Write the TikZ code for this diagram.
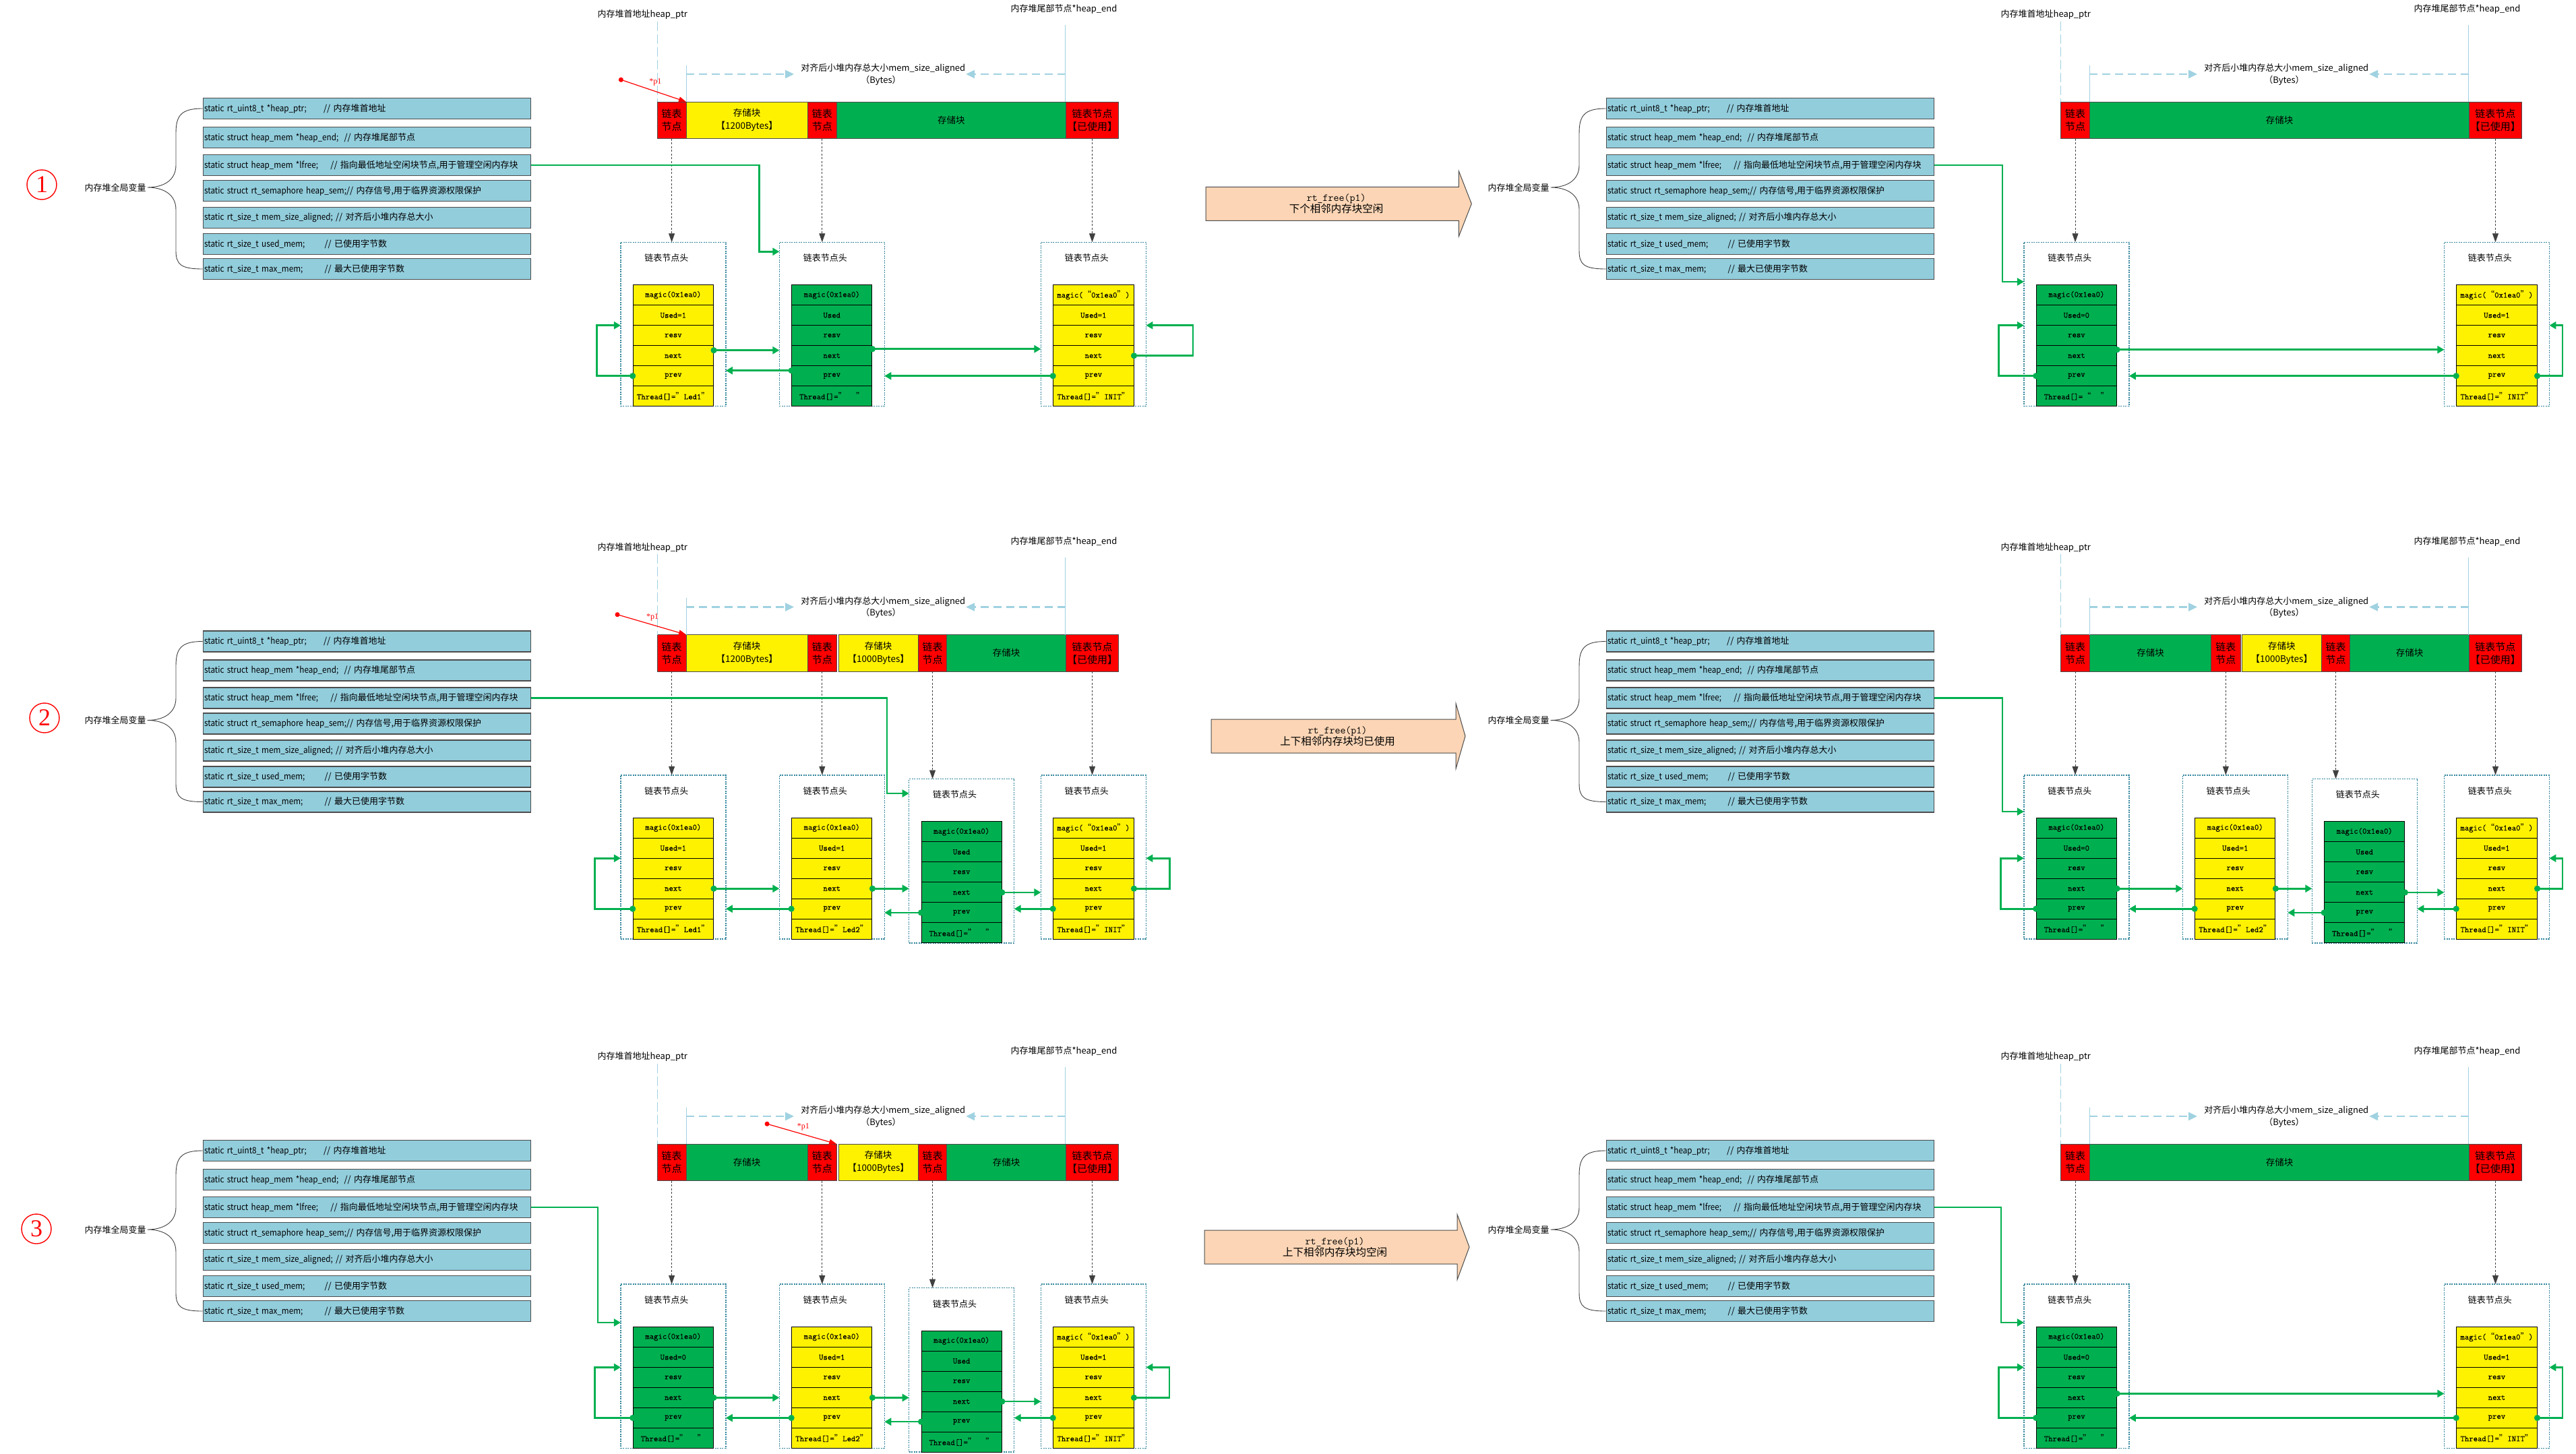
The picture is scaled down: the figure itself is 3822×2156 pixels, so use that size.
\documentclass[tikz,border=0pt]{standalone}
\usepackage{fontspec}
\setmainfont{Noto Sans CJK SC}
\newfontfamily\codefont[FakeStretch=0.9]{Noto Sans CJK SC}
\newfontfamily\numfont{Liberation Serif}
\newfontfamily\cellfont[FakeBold=0.5]{Latin Modern Mono}
\usetikzlibrary{arrows.meta}

\definecolor{lgreen}{RGB}{0,176,80}
\definecolor{varblue}{RGB}{146,205,220}
\definecolor{lblue}{RGB}{160,210,225}
\definecolor{boxteal}{RGB}{49,133,156}
\definecolor{peach}{RGB}{251,213,181}

\tikzset{
  varlab/.style={font=\fontsize{13}{15}\selectfont, inner sep=2pt},
  varbox/.style={draw=black!70, fill=varblue, line width=1.3pt, anchor=west, text width=482pt, align=left,
    inner xsep=2pt, inner ysep=0pt, minimum height=31pt, font=\fontsize{13}{15}\selectfont},
  brace/.style={draw=black!75, line width=0.9pt},
  circnum/.style={circle, draw=red, text=red, line width=1.4pt, minimum size=44pt, inner sep=0pt,
    font=\numfont\fontsize{36}{36}\selectfont},
  toplab/.style={font=\fontsize{13}{15}\selectfont, inner sep=0pt},
  guide/.style={draw=lblue, line width=1pt},
  guidedash/.style={dash pattern=on 14pt off 5pt},
  sizearrow/.style={draw=lblue, line width=2.4pt, dash pattern=on 12pt off 7pt, -{Triangle[length=13pt,width=12pt]}},
  seg/.style={draw=black!70, line width=0.8pt, anchor=north west, outer sep=0pt, minimum height=54.7pt,
    inner sep=0pt, align=center, font=\fontsize{13.5}{19}\selectfont},
  redseg/.style={seg, fill=red, font=\fontsize{15}{19}\selectfont},
  yelseg/.style={seg, fill=yellow},
  grnseg/.style={seg, fill=lgreen},
  pptr/.style={draw=red, line width=1.2pt, {Circle[length=7pt]}-{Triangle[length=11pt,width=8pt]}, shorten <=-3.5pt},
  plab/.style={text=red, font=\numfont\fontsize{12}{12}\selectfont, inner sep=0pt},
  ptr/.style={draw=black!75, line width=0.8pt, dash pattern=on 3pt off 2.5pt, -{Triangle[length=13pt,width=9pt]}},
  nodebox/.style={draw=boxteal, line width=1.5pt, dash pattern=on 2pt off 1.5pt, minimum width=156pt,
    minimum height=243.4pt, inner sep=0pt, outer sep=0pt, anchor=north west},
  headtxt/.style={font=\fontsize{13}{15}\selectfont, inner sep=0pt},
  cell/.style={draw=black, line width=0.9pt, minimum width=119.3pt, minimum height=30pt, inner sep=0pt,
    outer sep=0pt, font=\cellfont\fontsize{12.4}{14}\selectfont},
  usedcell/.style={cell, fill=yellow},
  freecell/.style={cell, fill=lgreen},
  link/.style={draw=lgreen, line width=2.6pt, {Circle[length=9pt]}-{Triangle[length=10pt,width=11pt]}, shorten <=-4pt},
  lfree/.style={draw=lgreen, line width=2.6pt, -{Triangle[length=10pt,width=11pt]}},
  bigarr/.style={draw=black!70, fill=peach, line width=1pt},
  arrtxt/.style={align=center, font=\fontsize{15.5}{17.4}\selectfont, inner sep=0pt},
}

\newcommand{\cq}[1]{{\rmfamily #1}}
\newcommand{\vcode}[2]{\makebox[#1pt][l]{\codefont #2}}

% global variable list with brace
\newcommand{\globalvars}[1]{%
  \node[varlab] (#1lab) at (171,278) {内存堆全局变量};
  \node[varbox] (#1v1) at (300.5,161) {\vcode{177}{static rt\_uint8\_t *heap\_ptr;}// 内存堆首地址};
  \node[varbox] (#1v2) at (300.5,204) {\vcode{207.5}{static struct heap\_mem *heap\_end;}// 内存堆尾部节点};
  \node[varbox] (#1v3) at (300.5,245) {\vcode{187.3}{static struct heap\_mem *lfree;}// 指向最低地址空闲块节点,用于管理空闲内存块};
  \node[varbox] (#1v4) at (300.5,283) {{\codefont static struct rt\_semaphore heap\_sem;}// 内存信号,用于临界资源权限保护};
  \node[varbox] (#1v5) at (300.5,323) {\vcode{194.9}{static rt\_size\_t mem\_size\_aligned;}// 对齐后小堆内存总大小};
  \node[varbox] (#1v6) at (300.5,362) {\vcode{178.5}{static rt\_size\_t used\_mem;}// 已使用字节数};
  \node[varbox] (#1v7) at (300.5,399) {\vcode{178.5}{static rt\_size\_t max\_mem;}// 最大已使用字节数};
  \draw[brace] (#1v1.west) .. controls (268,161) and (261,172) .. (261,198) -- (261,245)
    .. controls (261,268) and (242,278) .. (#1lab.east)
    .. controls (242,278) and (261,288) .. (261,311) -- (261,372)
    .. controls (261,392) and (268,399) .. (#1v7.west);
}

% one segment of the heap bar
\newcommand{\seg}[5]{\node[#4, minimum width={(#3)-(#2)}] (#1) at (#2,151) {#5};}

% labels and guides above the bar
\newcommand{\heaphead}[1]{%
  \node[toplab] (#1ptr) at (953.3,21.7) {内存堆首地址heap\_ptr};
  \node[toplab] (#1end) at (1578.5,13.3) {内存堆尾部节点*heap\_end};
  \node[toplab] (#1size) at (1310.3,101.7) {对齐后小堆内存总大小mem\_size\_aligned};
  \node[toplab] (#1bytes) at (1307,119.3) {（Bytes）};
  \coordinate (#1g1) at (975.2,31.7);
  \coordinate (#1g2) at (1018,96.7);
  \coordinate (#1g3) at (1580.7,36.7);
  \draw[guide, guidedash] (#1g1) -- (#1g1 |- #1s1.north);
  \draw[guide] (#1g2) -- (#1g2 |- #1s1.north);
  \draw[guide] (#1g3) -- (#1g3 |- #1s1.north);
  \coordinate (#1a1) at (1018,110);
  \coordinate (#1a2) at (1178,110);
  \coordinate (#1a3) at (1580.7,110);
  \coordinate (#1a4) at (1433.2,110);
  \draw[sizearrow] (#1a1) -- (#1a2);
  \draw[sizearrow] (#1a3) -- (#1a4);
}

% list node: name, x, y, cell style, magic, used, thread
\newcommand{\memnode}[7]{%
  \node[nodebox] (#1) at (#2,#3) {};
  \node[headtxt] (#1-head) at ([xshift=68pt,yshift=-23.4pt]#1.north west) {链表节点头};
  \node[#4, anchor=north west] (#1-magic) at ([xshift=18.3pt,yshift=-63.4pt]#1.north west) {#5};
  \node[#4, anchor=north] (#1-used) at (#1-magic.south) {#6};
  \node[#4, anchor=north] (#1-resv) at (#1-used.south) {resv};
  \node[#4, anchor=north] (#1-next) at (#1-resv.south) {next};
  \node[#4, anchor=north] (#1-prev) at (#1-next.south) {prev};
  \node[#4, anchor=north] (#1-thread) at (#1-prev.south) {#7};
}

\newcommand{\fwd}[3][0]{\draw[link] ([yshift=#1pt]#2-next.east) -- ([yshift=#1pt]#2-next.east -| #3.west);}
\newcommand{\bwd}[3][0]{\draw[link] ([yshift=#1pt]#2-prev.west) -- ([yshift=#1pt]#2-prev.west -| #3.east);}
\newcommand{\lloop}[2]{\draw[link] (#1-prev.west) -- ++(-#2,0) |- (#1.west |- #1-used.south);}

% block arrow between the panels
\newcommand{\freestep}[6]{%
  \draw[bigarr] (#2,#5-25) -- (#3,#5-25) -- (#3,#5-48.6) -- (#4,#5) -- (#3,#5+48.6) -- (#3,#5+25) -- (#2,#5+25) -- cycle;
  \node[arrtxt] (#1) at ({(#2+#3)/2+6},#5) {{\ttfamily rt\_free(p1)}\\#6};
}

\newcommand{\magicinit}{magic(\cq{“}0x1ea0\cq{”})}
\newcommand{\blank}{Thread[]=\cq{”}\hspace{14pt}\cq{”}}

\begin{document}
\begin{tikzpicture}[x=1pt, y=-1pt]
\useasboundingbox (0,0) rectangle (3822,2156);

%%%%%%%% step 1
\node[circnum] (num1) at (62,274) {1};
\begin{scope}
\globalvars{p1l}
\seg{p1ls1}{975.2}{1018}{redseg}{链表\\节点}
\seg{p1ls2}{1018}{1198.4}{yelseg}{存储块\\【1200Bytes】}
\seg{p1ls3}{1198.4}{1241.2}{redseg}{链表\\节点}
\seg{p1ls4}{1241.2}{1581.3}{grnseg}{存储块}
\seg{p1ls5}{1581.3}{1659.7}{redseg}{链表节点\\【已使用】}
\heaphead{p1l}
\coordinate (p1lp) at (921.4,118.3);
\draw[pptr] (p1lp) -- (p1ls2.north west);
\node[plab] (p1lplab) at (972.4,121.7) {*p1};
\memnode{p1ln1}{920.9}{359.3}{usedcell}{magic(0x1ea0)}{Used=1}{Thread[]=\cq{”}Led1\cq{”}}
\memnode{p1ln2}{1156.3}{359.3}{freecell}{magic(0x1ea0)}{Used}{\blank}
\memnode{p1ln3}{1544.4}{359.3}{usedcell}{\magicinit}{Used=1}{Thread[]=\cq{”}INIT\cq{”}}
\draw[ptr] (p1ls1.south) -- (p1ls1.south |- p1ln1.north);
\draw[ptr] (p1ls3.south) -- (p1ls3.south |- p1ln2.north);
\draw[ptr] (p1ls5.south) -- (p1ls5.south |- p1ln3.north);
\draw[lfree] (p1lv3.east) -| ([xshift=-30pt,yshift=-14pt]p1ln2.north west) -- ([yshift=-14pt]p1ln2.north west);
\fwd[8]{p1ln1}{p1ln2}
\bwd[8]{p1ln2}{p1ln1}
\fwd[10]{p1ln2}{p1ln3}
\bwd{p1ln3}{p1ln2}
\lloop{p1ln1}{54}
\draw[link] (p1ln3-next.east) -- ++(88,0) |- (p1ln3.east |- p1ln3-used.south);
\end{scope}

\freestep{step1}{1789}{2164.3}{2183.3}{302.3}{下个相邻内存块空闲}

\begin{scope}[shift={(2082,0)}]
\globalvars{p1r}
\seg{p1rs1}{975.3}{1018.7}{redseg}{链表\\节点}
\seg{p1rs2}{1018.7}{1581.4}{grnseg}{存储块}
\seg{p1rs3}{1581.4}{1659.5}{redseg}{链表节点\\【已使用】}
\heaphead{p1r}
\memnode{p1rn1}{920.9}{359.3}{freecell}{magic(0x1ea0)}{Used=0}{Thread[]=\cq{“}\hspace{14pt}\cq{”}}
\memnode{p1rn2}{1544.4}{359.3}{usedcell}{\magicinit}{Used=1}{Thread[]=\cq{”}INIT\cq{”}}
\draw[ptr] (p1rs1.south) -- (p1rs1.south |- p1rn1.north);
\draw[ptr] (p1rs3.south) -- (p1rs3.south |- p1rn2.north);
\draw[lfree] (p1rv3.east) -| ([xshift=-32pt,yshift=-58.7pt]p1rn1.north west) -- ([yshift=-58.7pt]p1rn1.north west);
\fwd[9]{p1rn1}{p1rn2}
\bwd{p1rn2}{p1rn1}
\lloop{p1rn1}{56}
\draw[link] (p1rn2-prev.east) -- ++(38,0) |- (p1rn2.east |- p1rn2-used.south);
\end{scope}

%%%%%%%% step 2
\node[circnum] (num2) at (66,1065) {2};
\begin{scope}[shift={(0,790.5)}]
\globalvars{p2l}
\seg{p2ls1}{975.2}{1018}{redseg}{链表\\节点}
\seg{p2ls2}{1018}{1198.4}{yelseg}{存储块\\【1200Bytes】}
\seg{p2ls3}{1198.4}{1241.2}{redseg}{链表\\节点}
\seg{p2ls4}{1244}{1362.4}{yelseg}{存储块\\【1000Bytes】}
\seg{p2ls5}{1362.4}{1404.7}{redseg}{链表\\节点}
\seg{p2ls6}{1404.7}{1581.3}{grnseg}{存储块}
\seg{p2ls7}{1581.3}{1659.7}{redseg}{链表节点\\【已使用】}
\heaphead{p2l}
\coordinate (p2lp) at (916,121.2);
\draw[pptr] (p2lp) -- (p2ls2.north west);
\node[plab] (p2lplab) at (968,125.5) {*p1};
\memnode{p2ln1}{920.9}{359.3}{usedcell}{magic(0x1ea0)}{Used=1}{Thread[]=\cq{”}Led1\cq{”}}
\memnode{p2ln2}{1156.3}{359.3}{usedcell}{magic(0x1ea0)}{Used=1}{Thread[]=\cq{”}Led2\cq{”}}
\memnode{p2ln3}{1348.7}{365}{freecell}{magic(0x1ea0)}{Used}{\blank}
\memnode{p2ln4}{1544.4}{359.3}{usedcell}{\magicinit}{Used=1}{Thread[]=\cq{”}INIT\cq{”}}
\draw[ptr] (p2ls1.south) -- (p2ls1.south |- p2ln1.north);
\draw[ptr] (p2ls3.south) -- (p2ls3.south |- p2ln2.north);
\draw[ptr] (p2ls5.south) -- (p2ls5.south |- p2ln3.north);
\draw[ptr] (p2ls7.south) -- (p2ls7.south |- p2ln4.north);
\draw[lfree] (p2lv3.east) -| ([xshift=-32.7pt,yshift=-21.5pt]p2ln3.north west) -- ([yshift=-21.5pt]p2ln3.north west);
\fwd{p2ln1}{p2ln2}
\bwd{p2ln2}{p2ln1}
\fwd{p2ln2}{p2ln3}
\bwd{p2ln3}{p2ln2}
\fwd{p2ln3}{p2ln4}
\bwd{p2ln4}{p2ln3}
\lloop{p2ln1}{57}
\draw[link] (p2ln4-next.east) -- ++(53.5,0) |- (p2ln4.east |- p2ln4-used.south);
\end{scope}

\freestep{step2}{1797}{2160}{2174}{1092}{上下相邻内存块均已使用}

\begin{scope}[shift={(2082,790.5)}]
\globalvars{p2r}
\seg{p2rs1}{975.3}{1018.7}{redseg}{链表\\节点}
\seg{p2rs2}{1018.7}{1198.7}{grnseg}{存储块}
\seg{p2rs3}{1198.7}{1242}{redseg}{链表\\节点}
\seg{p2rs4}{1244.2}{1362.4}{yelseg}{存储块\\【1000Bytes】}
\seg{p2rs5}{1362.4}{1404.7}{redseg}{链表\\节点}
\seg{p2rs6}{1404.7}{1581.4}{grnseg}{存储块}
\seg{p2rs7}{1581.4}{1659.5}{redseg}{链表节点\\【已使用】}
\heaphead{p2r}
\memnode{p2rn1}{920.9}{359.3}{freecell}{magic(0x1ea0)}{Used=0}{\blank}
\memnode{p2rn2}{1156.3}{359.3}{usedcell}{magic(0x1ea0)}{Used=1}{Thread[]=\cq{”}Led2\cq{”}}
\memnode{p2rn3}{1348.3}{365}{freecell}{magic(0x1ea0)}{Used}{\blank}
\memnode{p2rn4}{1544.4}{359.3}{usedcell}{\magicinit}{Used=1}{Thread[]=\cq{”}INIT\cq{”}}
\draw[ptr] (p2rs1.south) -- (p2rs1.south |- p2rn1.north);
\draw[ptr] (p2rs3.south) -- (p2rs3.south |- p2rn2.north);
\draw[ptr] (p2rs5.south) -- (p2rs5.south |- p2rn3.north);
\draw[ptr] (p2rs7.south) -- (p2rs7.south |- p2rn4.north);
\draw[lfree] (p2rv3.east) -| ([xshift=-32pt,yshift=-54.2pt]p2rn1.north west) -- ([yshift=-54.2pt]p2rn1.north west);
\fwd{p2rn1}{p2rn2}
\bwd{p2rn2}{p2rn1}
\fwd{p2rn2}{p2rn3}
\bwd{p2rn3}{p2rn2}
\fwd{p2rn3}{p2rn4}
\bwd{p2rn4}{p2rn3}
\lloop{p2rn1}{53}
\draw[link] (p2rn4-next.east) -- ++(38,0) |- (p2rn4.east |- p2rn4-used.south);
\end{scope}

%%%%%%%% step 3
\node[circnum] (num3) at (54,1823) {3};
\begin{scope}[shift={(0,1546)}]
\globalvars{p3l}
\seg{p3ls1}{975.2}{1018}{redseg}{链表\\节点}
\seg{p3ls2}{1018}{1198.4}{grnseg}{存储块}
\seg{p3ls3}{1198.4}{1241.2}{redseg}{链表\\节点}
\seg{p3ls4}{1244}{1362.4}{yelseg}{存储块\\【1000Bytes】}
\seg{p3ls5}{1362.4}{1404.7}{redseg}{链表\\节点}
\seg{p3ls6}{1404.7}{1581.3}{grnseg}{存储块}
\seg{p3ls7}{1581.3}{1659.7}{redseg}{链表节点\\【已使用】}
\heaphead{p3l}
\coordinate (p3lp) at (1138.1,121.3);
\draw[pptr] (p3lp) -- (p3ls3.north east);
\node[plab] (p3lplab) at (1191.8,125.7) {*p1};
\memnode{p3ln1}{920.9}{359}{freecell}{magic(0x1ea0)}{Used=0}{\blank}
\memnode{p3ln2}{1156.3}{359}{usedcell}{magic(0x1ea0)}{Used=1}{Thread[]=\cq{”}Led2\cq{”}}
\memnode{p3ln3}{1348.7}{364.7}{freecell}{magic(0x1ea0)}{Used}{\blank}
\memnode{p3ln4}{1544.4}{359}{usedcell}{\magicinit}{Used=1}{Thread[]=\cq{”}INIT\cq{”}}
\draw[ptr] (p3ls1.south) -- (p3ls1.south |- p3ln1.north);
\draw[ptr] (p3ls3.south) -- (p3ls3.south |- p3ln2.north);
\draw[ptr] (p3ls5.south) -- (p3ls5.south |- p3ln3.north);
\draw[ptr] (p3ls7.south) -- (p3ls7.south |- p3ln4.north);
\draw[lfree] (p3lv3.east) -| ([xshift=-34pt,yshift=-57pt]p3ln1.north west) -- ([yshift=-57pt]p3ln1.north west);
\fwd{p3ln1}{p3ln2}
\bwd{p3ln2}{p3ln1}
\fwd{p3ln2}{p3ln3}
\bwd{p3ln3}{p3ln2}
\fwd{p3ln3}{p3ln4}
\bwd{p3ln4}{p3ln3}
\lloop{p3ln1}{57}
\draw[link] (p3ln4-next.east) -- ++(53,0) |- (p3ln4.east |- p3ln4-used.south);
\end{scope}

\freestep{step3}{1787}{2162}{2180}{1850}{上下相邻内存块均空闲}

\begin{scope}[shift={(2082,1546)}]
\globalvars{p3r}
\seg{p3rs1}{975.3}{1018.7}{redseg}{链表\\节点}
\seg{p3rs2}{1018.7}{1581.4}{grnseg}{存储块}
\seg{p3rs3}{1581.4}{1659.5}{redseg}{链表节点\\【已使用】}
\heaphead{p3r}
\memnode{p3rn1}{920.9}{359}{freecell}{magic(0x1ea0)}{Used=0}{\blank}
\memnode{p3rn2}{1544.4}{359}{usedcell}{\magicinit}{Used=1}{Thread[]=\cq{”}INIT\cq{”}}
\draw[ptr] (p3rs1.south) -- (p3rs1.south |- p3rn1.north);
\draw[ptr] (p3rs3.south) -- (p3rs3.south |- p3rn2.north);
\draw[lfree] (p3rv3.east) -| ([xshift=-34pt,yshift=-57pt]p3rn1.north west) -- ([yshift=-57pt]p3rn1.north west);
\fwd[6]{p3rn1}{p3rn2}
\bwd{p3rn2}{p3rn1}
\lloop{p3rn1}{56}
\draw[link] (p3rn2-prev.east) -- ++(38,0) |- (p3rn2.east |- p3rn2-used.south);
\end{scope}

\end{tikzpicture}
\end{document}
